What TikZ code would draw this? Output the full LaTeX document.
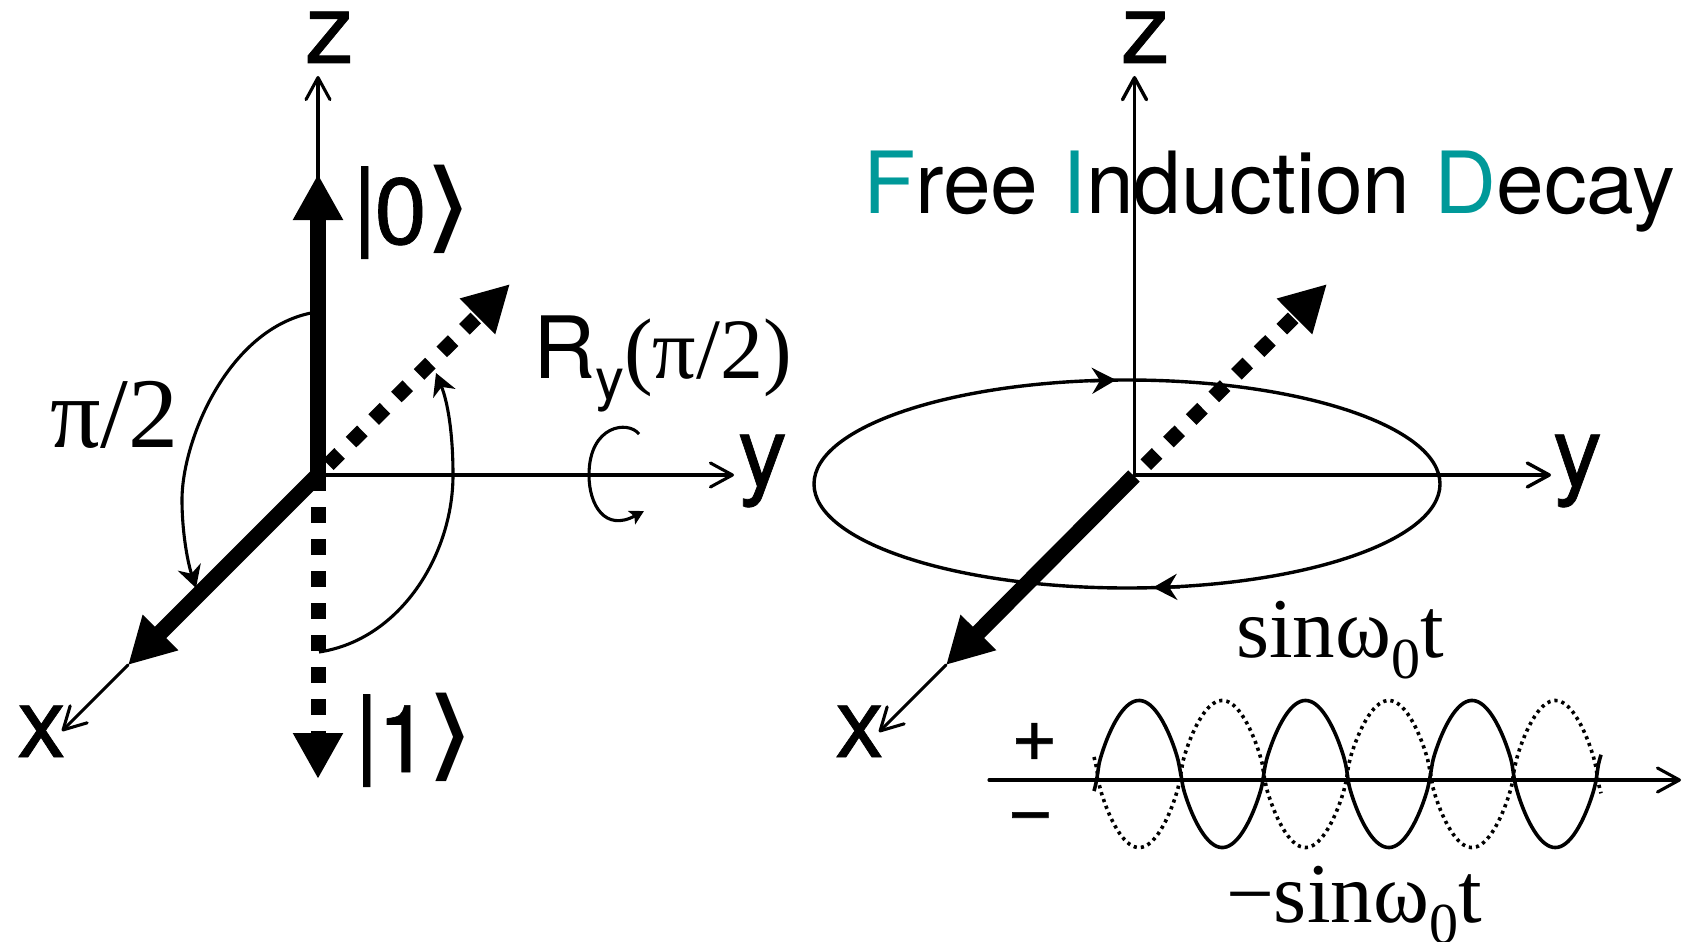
\documentclass[tikz,border=0pt]{standalone}
\usepackage{fontspec}
\usetikzlibrary{arrows.meta}
\setmainfont{TeX Gyre Heros}
\newfontfamily\serifface{Liberation Serif}
\newfontfamily\brk{DejaVu Sans}
\newfontfamily\heavy[FakeBold=0.7]{TeX Gyre Heros}
\definecolor{fidteal}{HTML}{009999}
\newcommand{\szfont}[1]{\fontsize{#1}{#1}\selectfont}
\newcommand{\ketclose}{{\brk\szfont{92}\raisebox{4pt}{\scalebox{1.4}[1.08]{\symbol{"27E9}}}}}
\newcommand{\ketbar}{\raisebox{6pt}{|}}
\tikzset{
  txt/.style={inner sep=0pt,outer sep=0pt,anchor=base west,text=black},
  axislab/.style={txt,font=\heavy\szfont{98}},
  serlab/.style={txt,font=\serifface\szfont{100}},
  thinaxis/.style={line width=3.1pt,line cap=round,-{Straight Barb[length=22pt,width=24pt,round]}},
  thickvec/.style={line width=16pt,-{Triangle[length=46pt,width=47pt]}},
  dashvec/.style={line width=15pt,-{Triangle[length=46pt,width=47pt]},dash pattern=on 16pt off 16pt},
  rotarc/.style={line width=3.1pt,-{Stealth[length=22pt,width=24pt,inset=7pt]}},
  orbit/.style={line width=3.4pt},
  orbithead/.style={line width=3.4pt,-{Stealth[length=24pt,width=26pt,inset=8pt]}},
}
\begin{document}
\begin{tikzpicture}[x=1pt,y=-1pt]
\useasboundingbox (0,0) rectangle (1689,942);
% --- left frame
\coordinate (O) at (318,475);
\coordinate (zT) at (318,76);
\coordinate (zH) at (318,174);
\coordinate (yT) at (734,475);
\coordinate (xH) at (128,665);
\coordinate (xT) at (62,731);
\coordinate (dnH) at (318,779);
\coordinate (dS) at (328.3,464.7);
\coordinate (dH) at (510,284);
\draw[thinaxis] (O) -- (zT);
\draw[thinaxis] (O) -- (yT);
\draw[thinaxis] (xH) -- (xT);
\draw[thickvec] (O) -- (zH);
\draw[thickvec] (O) -- (xH);
\draw[dashvec] (O) -- (dnH);
\draw[dashvec] (dS) -- (dH);
% arcs
\coordinate (a1) at (311,313);
\coordinate (a2) at (182,500);
\coordinate (a3) at (196,588);
\draw[rotarc] (a1) .. controls (228,330) and (182,440) .. (a2) .. controls (182,530) and (187,560) .. (a3);
\coordinate (b1) at (319,652);
\coordinate (b2) at (453,475);
\coordinate (b3) at (436,373);
\draw[rotarc] (b1) .. controls (400,640) and (453,555) .. (b2) .. controls (453,430) and (447,400) .. (b3);
\coordinate (c1) at (639,434);
\coordinate (c2) at (589,475);
\coordinate (c3) at (644,511);
\draw[line width=3.1pt,-{Stealth[length=14pt,width=15pt,inset=3pt]}] (c1) .. controls (628,420) and (589,425) .. (c2) .. controls (589,505) and (605,532) .. (c3);
% left labels
\node[axislab] (zL) at (305,63) {z};
\node[axislab] (yL) at (738,486) {y};
\node[axislab] (xL) at (17,757) {x};
\node[axislab] (ket0) at (352,244) {\ketbar\kern-3pt{\szfont{94}0}\kern-3pt\ketclose};
\node[axislab] (ket1) at (354,772) {\ketbar\kern-2pt{\szfont{94}1}\kern-4pt\ketclose};
\node[serlab] (piL) at (50,447) {π/2};
\node[txt] (Ry) at (533,378) {\szfont{86}R\raisebox{-21pt}{\szfont{58}y}\serifface\szfont{86}(π/2)};
% --- right frame
\coordinate (Or) at (1134.5,475);
\coordinate (zTr) at (1134.5,76);
\coordinate (yTr) at (1551,475);
\coordinate (xSr) at (1134,476);
\coordinate (xHr) at (946,665);
\coordinate (xTr) at (879,732);
\coordinate (dSr) at (1145.8,464.7);
\coordinate (dHr) at (1327,284);
\coordinate (ellC) at (1127,484);
\draw[orbit] (ellC) ellipse [x radius=313,y radius=104];
\coordinate (e1) at (1090,380.8);
\coordinate (e2) at (1116,380);
\coordinate (e3) at (1180,586.8);
\coordinate (e4) at (1153,587.5);
\draw[orbithead] (e1) -- (e2);
\draw[orbithead] (e3) -- (e4);
\draw[thinaxis,line width=3.4pt] (Or) -- (zTr);
\draw[thinaxis,line width=3.4pt] (Or) -- (yTr);
\draw[thinaxis] (xHr) -- (xTr);
\draw[thickvec] (xSr) -- (xHr);
\draw[dashvec] (dSr) -- (dHr);
\node[axislab] (zR) at (1121,63) {z};
\node[axislab] (yR) at (1553,486) {y};
\node[axislab] (xR) at (835,757) {x};
\node[txt,font=\szfont{85.8}] (title) at (863,213) {\textcolor{fidteal}{F}ree \textcolor{fidteal}{I}nduction \textcolor{fidteal}{D}ecay};
% --- sine plot
\coordinate (tS) at (989,780);
\coordinate (tE) at (1681,780);
\draw[thinaxis] (tS) -- (tE);
\draw[line width=3.6pt] plot[smooth,domain=1094:1601,samples=200] (\x,{774-73.5*sign(sin((\x-1097.4)/166.5*360))*pow(abs(sin((\x-1097.4)/166.5*360))+0.0005,0.72)});
\draw[line width=3.6pt,dash pattern=on 3.2pt off 4pt] plot[domain=1094:1601,samples=200] (\x,{774+73.5*sign(sin((\x-1097.4)/166.5*360))*pow(abs(sin((\x-1097.4)/166.5*360))+0.0005,0.72)});
\node[txt,font=\heavy\szfont{80}] (plusL) at (1011,761) {+};
\node[txt,font=\heavy\szfont{80}] (minusL) at (1007,835) {−};
\node[txt,font=\serifface\szfont{85}] (sinP) at (1236,657) {sinω\raisebox{-21pt}{\szfont{58}0}t};
\node[txt,font=\serifface\szfont{85}] (sinM) at (1226,922) {−sinω\raisebox{-21pt}{\szfont{58}0}t};
\end{tikzpicture}
\end{document}
